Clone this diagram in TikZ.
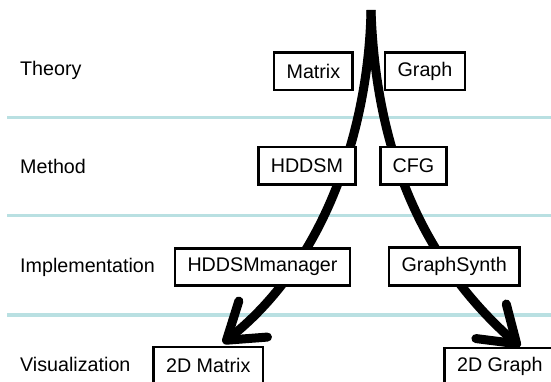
\documentclass[tikz,border=0pt]{standalone}
\usepackage{fontspec}
\setmainfont{Liberation Sans}
\usetikzlibrary{arrows.meta,calc}
\pgfdeclarelayer{lanes}
\pgfdeclarelayer{flows}
\pgfsetlayers{lanes,flows,main}
\definecolor{lanecol}{RGB}{185,224,226}
\tikzset{
  box/.style={draw=black, line width=2.6pt, fill=white, inner xsep=12.5pt, inner ysep=0pt,
              minimum height=37.5pt, font=\fontsize{19.7}{23}\selectfont},
  lanelabel/.style={anchor=base west, inner sep=0pt, font=\fontsize{19.7}{23}\selectfont},
  lane/.style={draw=lanecol, line width=3.2pt},
  flow/.style={draw=black, line width=9pt,
               -{Straight Barb[round, length=34pt, width=46pt]}}
}
\begin{document}
\begin{tikzpicture}[x=1pt, y=-1pt]
\useasboundingbox (0,0) rectangle (551,381);
% lane labels
\node[lanelabel] (lt) at (20,75.7) {Theory};
\node[lanelabel] (lm) at (20,173.2) {Method};
\node[lanelabel] (li) at (20,272.7) {Implementation};
\node[lanelabel] (lv) at (20,371.7) {Visualization};
% boxes
\node[box] (matrix) at (313.4,71.4) {Matrix};
\node[box] (graph) at (425,71.3) {Graph};
\node[box] (hddsm) at (306.9,165.9) {HDDSM};
\node[box] (cfg) at (413.5,165.9) {CFG};
\node[box] (mgr) at (262.5,267) {HDDSMmanager};
\node[box] (gs) at (454.2,266.5) {GraphSynth};
\node[box, anchor=north west] (m2d) at (152.3,345.7) {2D Matrix};
\node[box, anchor=north west] (g2d) at (443.3,346.7) {2D Graph};
% lanes
\begin{pgfonlayer}{lanes}
\coordinate (l1a) at (7,117.7); \coordinate (l1b) at (551,117.7);
\coordinate (l2a) at (7,215.7); \coordinate (l2b) at (551,215.7);
\coordinate (l3a) at (7,315); \coordinate (l3b) at (551,315);
\draw[lane] (l1a) -- (l1b);
\draw[lane] (l2a) -- (l2b);
\draw[lane] (l3a) -- (l3b);
\end{pgfonlayer}
% flows
\begin{pgfonlayer}{flows}
\coordinate (top) at (371,10);
\coordinate (tipL) at ($(m2d.north west)+(70.7,-2.7)$);
\coordinate (tipR) at ($(g2d.north west)+(76.7,0)$);
\draw[flow] (top) .. controls (369,120) and (330,258) .. (tipL);
\draw[flow] (top) .. controls (375,130) and (410,250) .. (tipR);
\end{pgfonlayer}
\end{tikzpicture}
\end{document}
